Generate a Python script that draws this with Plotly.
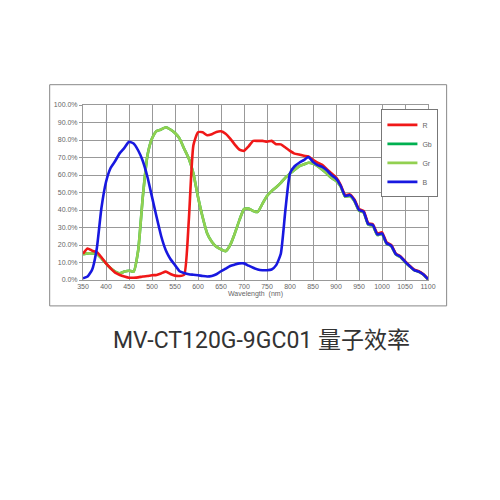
import plotly.graph_objects as go

# wavelength grid (nm) and quantum efficiency (%)
wavelength = list(range(350, 1101, 10))

r_qe = [
    15, 18, 16.7, 16, 13, 9.5, 6.7, 4.2, 2.9, 2, 1.3, 1.3, 1.5, 2, 2.3, 2.7, 2.9, 3.8, 4.8, 3.4,
    2.5, 2.3, 3, 34, 77, 84.4, 84.4, 82.7, 83.3, 84.6, 85, 83.6, 80.8, 77.4, 74.5, 73.8, 76.4, 79.5,
    79.5, 79.5, 79, 79.5, 77.6, 77.5, 75.7, 73.8, 72.2, 71.7, 71, 70.6, 68.6, 67, 65.8, 63.3, 61,
    58.6, 54.4, 48.6, 48.9, 46, 40.6, 39.5, 32.4, 31.8, 26.6, 27.2, 21.5, 20, 15.1, 13.6, 10.8, 8.2,
    5.9, 5, 3.3, 0.6,
]
gr_qe = [
    14.8, 15.2, 15.2, 14.8, 12.4, 9.5, 6.7, 4.8, 3.8, 4.8, 5.3, 4.8, 17, 47.5, 71, 80.8, 85.2, 86,
    87.3, 86, 84, 80.8, 75, 69.4, 60.8, 47.5, 36, 26.6, 21.9, 19, 17.5, 16.5, 20, 26.6, 34.2, 40.5,
    40.8, 39.4, 39, 43.5, 48, 50.8, 53, 55.5, 58.5, 60.8, 63, 65, 66, 67, 66.5, 65, 63, 60.8, 58.4,
    56.7, 53.5, 47.6, 48, 45.2, 39.6, 38.6, 31.7, 31, 25.7, 26.3, 20.8, 19.4, 14.6, 13.1, 10.3, 7.9,
    5.6, 4.7, 3.1, 0.4,
]
gb_qe = gr_qe
b_qe = [
    1, 2, 6, 18, 41, 56, 64, 68, 72.5, 75.5, 79, 78, 74, 68, 59, 47.5, 36, 25, 17, 12, 8.5, 5, 4,
    3.3, 3, 2.7, 2.3, 2, 2.3, 3.3, 5, 6.5, 8, 8.8, 9.5, 9.5, 8.2, 7, 6, 5.6, 5.6, 6, 8.5, 15, 40,
    61, 65, 67, 68.5, 70.3, 67.5, 65.6, 64.6, 62.7, 60, 58, 54, 48, 48.5, 45.6, 40, 39, 32, 31.4,
    26, 26.6, 21, 19.6, 14.8, 13.3, 10.5, 8, 5.7, 4.8, 3.2, 0.5,
]

x_ticks = list(range(350, 1101, 50))
y_ticks = list(range(0, 101, 10))
y_labels = [f"{v:.1f}%" for v in y_ticks]

series = [
    ("Gb", gb_qe, "#00b050", 2),
    ("Gr", gr_qe, "#92d050", 3),
    ("R", r_qe, "#f01818", 1),
    ("B", b_qe, "#1818e0", 4),
]

fig = go.Figure()
for name, qe, color, rank in series:
    fig.add_trace(
        go.Scatter(
            x=wavelength,
            y=qe,
            name=name,
            mode="lines",
            line=dict(color=color, width=2.6, shape="spline", smoothing=0.5),
            legendrank=rank,
        )
    )

grid = "#999999"
tick_font = dict(family="Liberation Sans, Arial", size=7, color="#666666")
fig.update_xaxes(
    range=[350, 1100],
    tickvals=x_ticks,
    showgrid=True,
    gridcolor=grid,
    gridwidth=1,
    showline=True,
    linecolor=grid,
    mirror=True,
    zeroline=False,
    ticks="",
    tickfont=tick_font,
    title=dict(text="Wavelength  (nm)", font=tick_font, standoff=1),
)
fig.update_yaxes(
    range=[0, 100],
    tickvals=y_ticks,
    ticktext=y_labels,
    showgrid=True,
    gridcolor=grid,
    gridwidth=1,
    showline=True,
    linecolor=grid,
    mirror=True,
    zeroline=False,
    ticks="outside",
    ticklen=3,
    tickcolor=grid,
    tickfont=tick_font,
)

fig.add_shape(
    type="rect", xref="paper", yref="paper",
    x0=-0.0966, x1=1.054, y0=-0.148, y1=1.116,
    line=dict(color="#888888", width=1), layer="below",
)
fig.add_annotation(
    text="MV-CT120G-9GC01 量子效率",
    xref="paper", yref="paper", x=0.518, y=-0.345,
    xanchor="center", yanchor="middle",
    showarrow=False,
    font=dict(family="Roboto, Noto Sans CJK SC", size=23, color="#333333"),
)

fig.update_layout(
    width=500,
    height=500,
    margin=dict(l=75, r=80, t=97, b=228),
    paper_bgcolor="white",
    plot_bgcolor="white",
    showlegend=True,
    legend=dict(
        x=0.865, y=0.975, xanchor="left", yanchor="top",
        bgcolor="white",
        bordercolor="#777777",
        borderwidth=1,
        font=dict(family="Liberation Sans, Arial", size=7, color="#666666"),
        itemwidth=30,
    ),
)

fig.write_html("out.html")
